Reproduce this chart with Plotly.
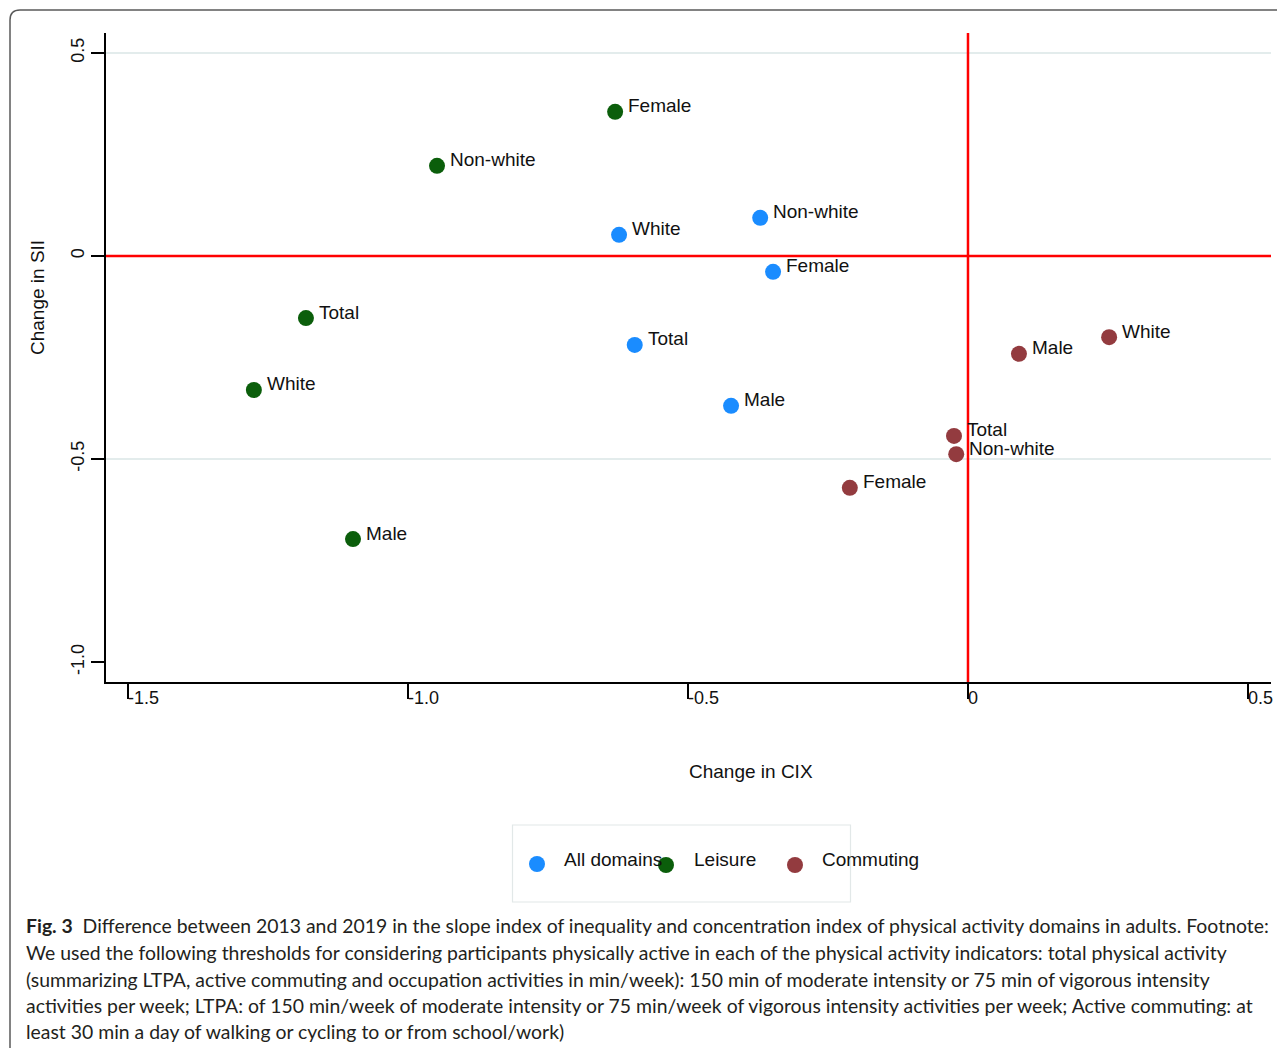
import plotly.graph_objects as go

# ---------------- data ----------------
categories = ["All domains", "Leisure", "Commuting"]
colors = ["#1a8cff", "#0b5e0b", "#933b3f"]

all_labels = ["Non-white", "White", "Female", "Total", "Male"]
all_cix = [-0.371, -0.623, -0.348, -0.595, -0.423]
all_sii = [0.094, 0.052, -0.039, -0.219, -0.369]

leisure_labels = ["Female", "Non-white", "Total", "White", "Male"]
leisure_cix = [-0.630, -0.948, -1.182, -1.275, -1.098]
leisure_sii = [0.355, 0.222, -0.153, -0.330, -0.697]

comm_labels = ["White", "Male", "Total", "Non-white", "Female"]
comm_cix = [0.252, 0.091, -0.025, -0.021, -0.211]
comm_sii = [-0.200, -0.241, -0.443, -0.488, -0.571]

x_ticks = [-1.5, -1.0, -0.5, 0, 0.5]
x_tick_text = ["-1.5", "-1.0", "-0.5", "0", "0.5"]
y_ticks = [-1.0, -0.5, 0, 0.5]
y_tick_text = ["-1.0", "-0.5", "0", "0.5"]
grid_y = [0.5, -0.5]
ref_x = 0
ref_y = 0

x_title = "Change in CIX"
y_title = "Change in SII"
caption_lines = [
    "<b>Fig. 3</b>\u00a0\u00a0Difference between 2013 and 2019 in the slope index of inequality and concentration index of physical activity domains in adults. Footnote:",
    "We used the following thresholds for considering participants physically active in each of the physical activity indicators: total physical activity",
    "(summarizing LTPA, active commuting and occupation activities in min/week): 150 min of moderate intensity or 75 min of vigorous intensity",
    "activities per week; LTPA: of 150 min/week of moderate intensity or 75 min/week of vigorous intensity activities per week; Active commuting: at",
    "least 30 min a day of walking or cycling to or from school/work)",
]

series = [
    (all_labels, all_cix, all_sii),
    (leisure_labels, leisure_cix, leisure_sii),
    (comm_labels, comm_cix, comm_sii),
]

# ---------------- layout geometry (page pixels, page has 8px body margin) ----------------
OFF = 8
W, H = 1285 - OFF, 1048 - OFF
ML = 106 - OFF
MT = 33 - OFF
MR = W - (1271 - OFF)
MB = H - (682 - OFF)
PW = W - ML - MR
PH = H - MT - MB


def px_x(p):
    return (p - OFF - ML) / PW


def px_y(p):
    return (H - MB - (p - OFF)) / PH


FONT = "Liberation Sans, Arial, Helvetica, sans-serif"

fig = go.Figure()
annotations = []
shapes = []

for (labels, xs, ys), name, col in zip(series, categories, colors):
    fig.add_trace(go.Scatter(
        x=xs, y=ys, mode="markers", name=name,
        marker=dict(size=16, color=col, line=dict(width=0)),
        showlegend=False, hoverinfo="text", text=labels,
    ))
    for lab, xv, yv in zip(labels, xs, ys):
        annotations.append(dict(
            x=xv, y=yv, xref="x", yref="y", text=lab, showarrow=False,
            xanchor="left", yanchor="middle", xshift=11, yshift=6,
            font=dict(family=FONT, size=19, color="#111111"),
        ))

# grid lines
for gy in grid_y:
    shapes.append(dict(type="line", xref="paper", x0=0, x1=1, yref="y", y0=gy, y1=gy,
                       line=dict(color="#e3ecec", width=2), layer="below"))
# reference lines
shapes.append(dict(type="line", xref="x", x0=ref_x, x1=ref_x, yref="paper", y0=0, y1=1,
                   line=dict(color="#ff0000", width=2.5), layer="below"))
shapes.append(dict(type="line", xref="paper", x0=0, x1=1, yref="y", y0=ref_y, y1=ref_y,
                   line=dict(color="#ff0000", width=2.5), layer="below"))

# outer frame with rounded top-left corner
frame = (f"M {px_x(10)},{px_y(1070)} L {px_x(10)},{px_y(20)} "
         f"Q {px_x(10)},{px_y(10)} {px_x(20)},{px_y(10)} L {px_x(1300)},{px_y(10)}")
shapes.append(dict(type="path", xref="paper", yref="paper", path=frame,
                   line=dict(color="#5a5a5a", width=1.5)))

# legend box (manual)
shapes.append(dict(type="rect", xref="paper", yref="paper",
                   x0=px_x(512.5), x1=px_x(850.5), y0=px_y(902), y1=px_y(825),
                   line=dict(color="#e2e8e8", width=1.2), fillcolor="rgba(0,0,0,0)"))
leg_marker_px = [(537, 864), (666, 865), (795, 865)]
leg_text_px = [(562, 859), (692, 859), (820, 859)]
r = 8
for (cx, cy), (tx, ty), name, col in zip(leg_marker_px, leg_text_px, categories, colors):
    shapes.append(dict(type="circle", xref="paper", yref="paper",
                       x0=px_x(cx - r), x1=px_x(cx + r), y0=px_y(cy + r), y1=px_y(cy - r),
                       fillcolor=col, line=dict(width=0)))
    annotations.append(dict(x=px_x(tx), y=px_y(ty), xref="paper", yref="paper", text=name,
                            showarrow=False, xanchor="left", yanchor="middle",
                            font=dict(family=FONT, size=19, color="#111111")))

# axis titles
annotations.append(dict(x=px_x(751), y=px_y(771), xref="paper", yref="paper", text=x_title,
                        showarrow=False, xanchor="center", yanchor="middle",
                        font=dict(family=FONT, size=19, color="#111111")))
annotations.append(dict(x=px_x(38), y=px_y(298), xref="paper", yref="paper", text=y_title,
                        showarrow=False, xanchor="center", yanchor="middle", textangle=-90,
                        font=dict(family=FONT, size=19, color="#111111")))

# x tick labels (left-aligned at tick, like the original)
for tv, tt in zip(x_ticks, x_tick_text):
    annotations.append(dict(x=tv, y=0, xref="x", yref="paper", text=tt, showarrow=False,
                            xanchor="left", yanchor="middle", xshift=-2, yshift=-16,
                            font=dict(family=FONT, size=18, color="#111111")))

# caption
cap_y = [925, 952, 979, 1005, 1031]
for line, cy in zip(caption_lines, cap_y):
    annotations.append(dict(x=px_x(24), y=px_y(cy), xref="paper", yref="paper", text=line,
                            showarrow=False, xanchor="left", yanchor="middle",
                            font=dict(family="Lato, Noto Sans, sans-serif", size=19.4, color="#231f20")))

fig.update_layout(
    width=W, height=H,
    margin=dict(l=ML, r=MR, t=MT, b=MB, pad=0),
    paper_bgcolor="white", plot_bgcolor="white",
    font=dict(family=FONT, size=18, color="#111111"),
    xaxis=dict(range=[-1.539, 0.541], tickvals=x_ticks, ticktext=x_tick_text,
               showticklabels=False, ticks="outside", ticklen=15, tickwidth=1.5,
               tickcolor="black", showline=True, linecolor="black", linewidth=1.5,
               showgrid=False, zeroline=False),
    yaxis=dict(range=[-1.049, 0.549], tickvals=y_ticks, ticktext=y_tick_text,
               ticks="outside", ticklen=13, tickwidth=1.5, tickcolor="black",
               tickangle=-90, tickfont=dict(family=FONT, size=18, color="#111111"),
               showline=True, linecolor="black", linewidth=1.5,
               showgrid=False, zeroline=False),
    annotations=annotations,
    shapes=shapes,
)

fig.write_html("out.html")
